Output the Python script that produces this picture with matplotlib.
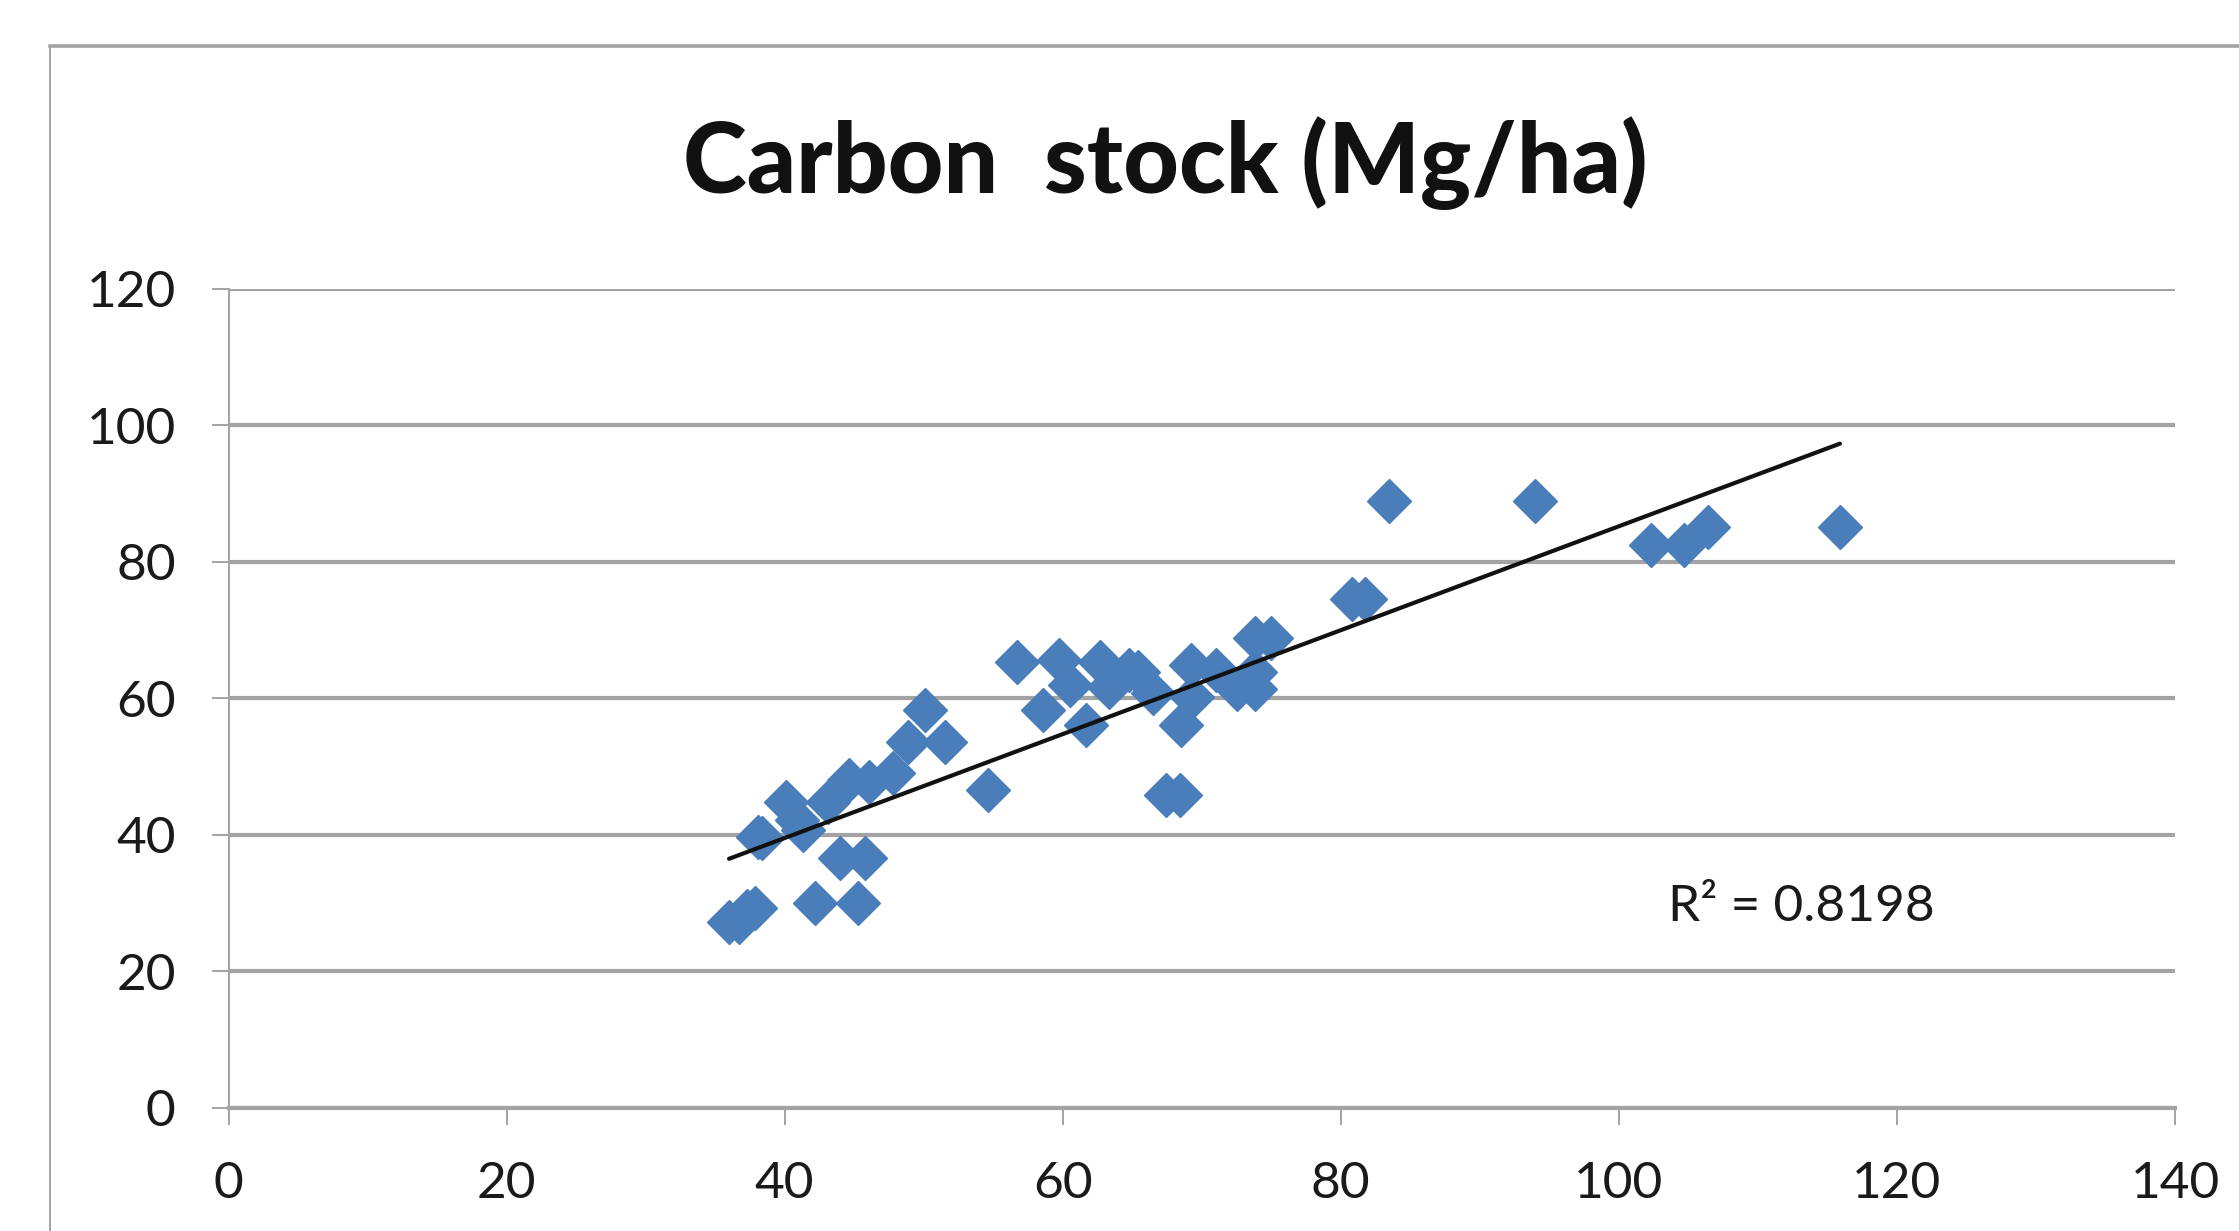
import numpy as np
import matplotlib
matplotlib.use("Agg")
import matplotlib.pyplot as plt
from matplotlib.lines import Line2D

# values
x_vals = [36.0, 36.7, 37.3, 37.9, 42.2, 45.3, 44.0, 45.8, 38.1, 38.35,
          41.3, 40.1, 40.9, 43.1, 44.6, 46.1, 47.8, 48.9, 50.1, 51.5,
          54.6, 56.7, 58.6, 59.7, 60.5, 61.7, 62.7, 63.3, 64.8, 65.4,
          66.5, 67.4, 68.4, 68.5, 69.2, 69.3, 71.0, 72.5, 73.8, 73.8,
          73.8, 75.0, 80.8, 81.75, 83.45, 94.0, 102.3, 104.7, 106.4, 115.9]
y_vals = [27.3, 27.3, 28.8, 29.3, 30.0, 30.0, 36.6, 36.6, 39.7, 39.5,
          40.7, 44.8, 42.1, 44.8, 48.0, 47.8, 49.0, 53.6, 58.3, 53.6,
          46.6, 65.3, 58.3, 65.6, 61.9, 56.1, 65.3, 61.7, 64.1, 63.9,
          60.7, 45.8, 45.8, 56.1, 64.9, 60.2, 64.1, 61.4, 61.4, 63.9,
          68.8, 68.8, 74.5, 74.5, 88.9, 88.9, 82.4, 82.4, 85.1, 85.1]
x_ticks = [0, 20, 40, 60, 80, 100, 120, 140]
y_ticks = [0, 20, 40, 60, 80, 100, 120]
title = "Carbon  stock (Mg/ha)"
r2_label = "R\u00b2 = 0.8198"

BLUE = "#4A7EBB"
GRID = "#A3A3A3"
FONT = ["Lato", "DejaVu Sans"]

plt.rcParams["font.family"] = FONT

W, H, DPI = 2239, 1231, 100
fig = plt.figure(figsize=(W / DPI, H / DPI), dpi=DPI)
ax = fig.add_axes([228.5 / W, 1 - 1108 / H, (2175 - 228.5) / W, (1108 - 288.5) / H])

x = np.array(x_vals)
y = np.array(y_vals)
ax.plot(x, y, ls="none", marker="D", ms=22.5, color=BLUE, mec=BLUE, zorder=3)

# linear trendline over the data range, like Excel draws it
coef = np.polyfit(x, y, 1)
xs = np.array([x.min(), x.max()])
ax.plot(xs, np.polyval(coef, xs), color="#111111", lw=3.0, zorder=4,
        solid_capstyle="round")

ax.text(103.5, 29.5, r2_label, fontsize=37, color="#1a1a1a", va="center", ha="left")

ax.set_xlim(0, 140)
ax.set_ylim(0, 120)
ax.set_xticks(x_ticks)
ax.set_yticks(y_ticks)
ax.yaxis.grid(True, color=GRID, lw=3.0)
ax.set_axisbelow(True)

for side in ("top", "right"):
    ax.spines[side].set_visible(False)
ax.spines["left"].set_color(GRID)
ax.spines["left"].set_linewidth(1.4)
ax.spines["bottom"].set_color(GRID)
ax.spines["bottom"].set_linewidth(3.0)

ax.tick_params(axis="both", direction="out", length=12, width=1.4,
               color=GRID, labelsize=37, labelcolor="#1a1a1a", pad=26)

fig.text(1165 / W, 1 - 193 / H, title, fontsize=69.5, fontweight="black",
         ha="center", va="baseline", color="#111111")

# outer chart-area frame (cut off at right and bottom in the reference)
fig.add_artist(Line2D([50 / W, 1.0], [1 - 46 / H, 1 - 46 / H], color=GRID,
                      lw=2.6, transform=fig.transFigure))
fig.add_artist(Line2D([50 / W, 50 / W], [0.0, 1 - 46 / H], color=GRID,
                      lw=1.4, transform=fig.transFigure))

fig.savefig("out.png", dpi=DPI)
